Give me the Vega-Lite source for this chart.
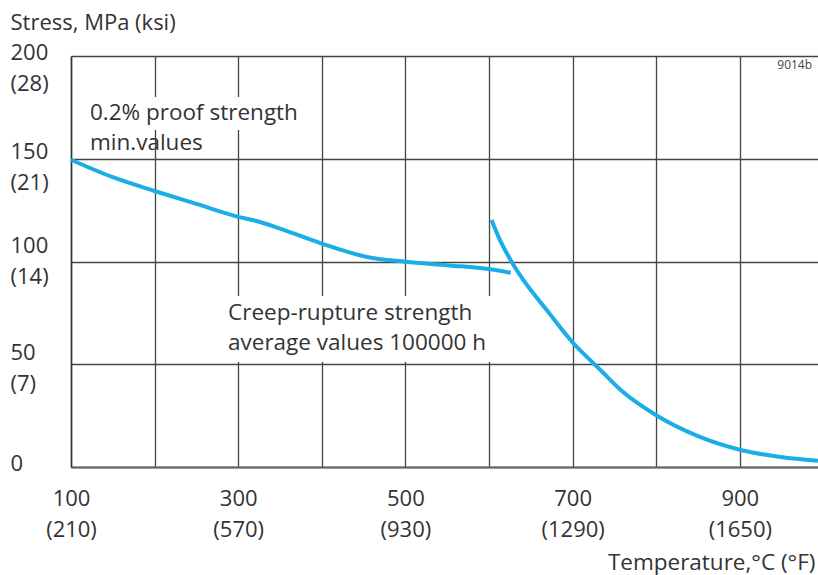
{
  "$schema": "https://vega.github.io/schema/vega-lite/v6.json",
  "width": 747,
  "height": 411,
  "autosize": {"type": "none"},
  "padding": {"left": 71, "top": 56, "right": 0, "bottom": 108},
  "background": "white",
  "config": {
    "view": {"stroke": null},
    "font": "Open Sans",
    "axis": {"labelFont": "Open Sans", "titleFont": "Open Sans", "labelColor": "#333", "titleColor": "#333", "titleFontWeight": "normal"}
  },
  "datasets": {
    "proof": [
      {"t": 100, "s": 149.5},
      {"t": 150, "s": 141.0},
      {"t": 200, "s": 134.3},
      {"t": 250, "s": 128.0},
      {"t": 300, "s": 121.7},
      {"t": 322, "s": 119.7},
      {"t": 350, "s": 116.0},
      {"t": 400, "s": 108.7},
      {"t": 454, "s": 102.2},
      {"t": 500, "s": 99.9},
      {"t": 553, "s": 98.1},
      {"t": 601, "s": 96.2},
      {"t": 626, "s": 94.5}
    ],
    "creep": [
      {"t": 603, "s": 120.2},
      {"t": 613, "s": 110.5},
      {"t": 627, "s": 99.9},
      {"t": 641, "s": 91.0},
      {"t": 669, "s": 76.4},
      {"t": 701, "s": 60.2},
      {"t": 717, "s": 53.6},
      {"t": 733, "s": 47.3},
      {"t": 760, "s": 36.6},
      {"t": 800, "s": 25.2},
      {"t": 850, "s": 15.0},
      {"t": 901, "s": 8.3},
      {"t": 949, "s": 4.9},
      {"t": 993.5, "s": 3.0}
    ],
    "boxes": [
      {"x": 116.7, "x2": 380, "y": 164, "y2": 180},
      {"x": 280.6, "x2": 619, "y": 51.1, "y2": 83.2}
    ],
    "notes": [
      {"t": 122.7, "s": 172.3, "text": "0.2% proof strength"},
      {"t": 122.7, "s": 157.7, "text": "min.values"},
      {"t": 287.8, "s": 74.9, "text": "Creep-rupture strength"},
      {"t": 287.8, "s": 60.3, "text": "average values 100000 h"}
    ],
    "code": [
      {"t": 986.4, "s": 195.6, "text": "9014b"}
    ]
  },
  "layer": [
    {
      "data": {"name": "boxes"},
      "mark": {"type": "rect", "color": "white", "opacity": 1},
      "encoding": {
        "x": {
          "field": "x", "type": "quantitative",
          "scale": {"domain": [100, 993.5], "nice": false, "zero": false},
          "axis": {
            "values": [100, 200, 300, 400, 500, 600, 700, 800, 900],
            "grid": true, "gridColor": "#444", "gridWidth": 1.3, "gridOpacity": 1,
            "ticks": false, "tickSize": 0,
            "domainColor": "#666", "domainWidth": 2.2,
            "labelFontSize": 22, "labelBaseline": "top", "labelPadding": 21, "labelLineHeight": 31,
            "labelAlign": "center", "labelFlush": false, "labelOverlap": false,
            "labelExpr": "datum.value % 200 == 100 ? [toString(datum.value), '(' + toString(round((datum.value * 9 / 5 + 32) / 10) * 10) + ')'] : ''",
            "title": "Temperature,°C (°F)", "titleFontSize": 22.5,
            "titleAnchor": null, "titleX": 744, "titleY": 95, "titleAlign": "right", "titleBaseline": "middle", "titleAngle": 0
          }
        },
        "x2": {"field": "x2"},
        "y": {
          "field": "y", "type": "quantitative",
          "scale": {"domain": [0, 200], "nice": false, "zero": true},
          "axis": {
            "values": [0, 50, 100, 150, 200],
            "grid": true, "gridColor": "#444", "gridWidth": 1.3, "gridOpacity": 1,
            "ticks": false, "tickSize": 0,
            "domainColor": "#333", "domainWidth": 1.5,
            "labelFontSize": 22, "labelAlign": "left", "labelBaseline": "top",
            "labelOffset": {"condition": [
              {"test": "datum.value == 100", "value": -26},
              {"test": "datum.value == 50", "value": -22},
              {"test": "datum.value == 150", "value": -17}
            ], "value": -14},
            "labelPadding": 61, "labelLineHeight": 31,
            "labelFlush": false, "labelOverlap": false,
            "labelExpr": "datum.value == 0 ? '0' : [toString(datum.value), '(' + toString(round(datum.value * 0.14)) + ')']",
            "title": "Stress, MPa (ksi)", "titleFontSize": 22,
            "titleX": -61, "titleY": -34, "titleAlign": "left", "titleBaseline": "middle", "titleAngle": 0
          }
        },
        "y2": {"field": "y2"}
      }
    },
    {
      "data": {"name": "proof"},
      "mark": {"type": "line", "color": "#1aaee8", "strokeWidth": 4, "interpolate": "monotone", "strokeCap": "butt"},
      "encoding": {
        "x": {"field": "t", "type": "quantitative"},
        "y": {"field": "s", "type": "quantitative"}
      }
    },
    {
      "data": {"name": "creep"},
      "mark": {"type": "line", "color": "#1aaee8", "strokeWidth": 4, "interpolate": "monotone", "strokeCap": "butt", "clip": true},
      "encoding": {
        "x": {"field": "t", "type": "quantitative"},
        "y": {"field": "s", "type": "quantitative"}
      }
    },
    {
      "data": {"name": "notes"},
      "mark": {"type": "text", "align": "left", "baseline": "middle", "fontSize": 22.5, "color": "#333", "font": "Open Sans"},
      "encoding": {
        "x": {"field": "t", "type": "quantitative"},
        "y": {"field": "s", "type": "quantitative"},
        "text": {"field": "text"}
      }
    },
    {
      "data": {"name": "code"},
      "mark": {"type": "text", "align": "right", "baseline": "middle", "fontSize": 12, "color": "#444", "font": "Open Sans"},
      "encoding": {
        "x": {"field": "t", "type": "quantitative"},
        "y": {"field": "s", "type": "quantitative"},
        "text": {"field": "text"}
      }
    }
  ]
}
